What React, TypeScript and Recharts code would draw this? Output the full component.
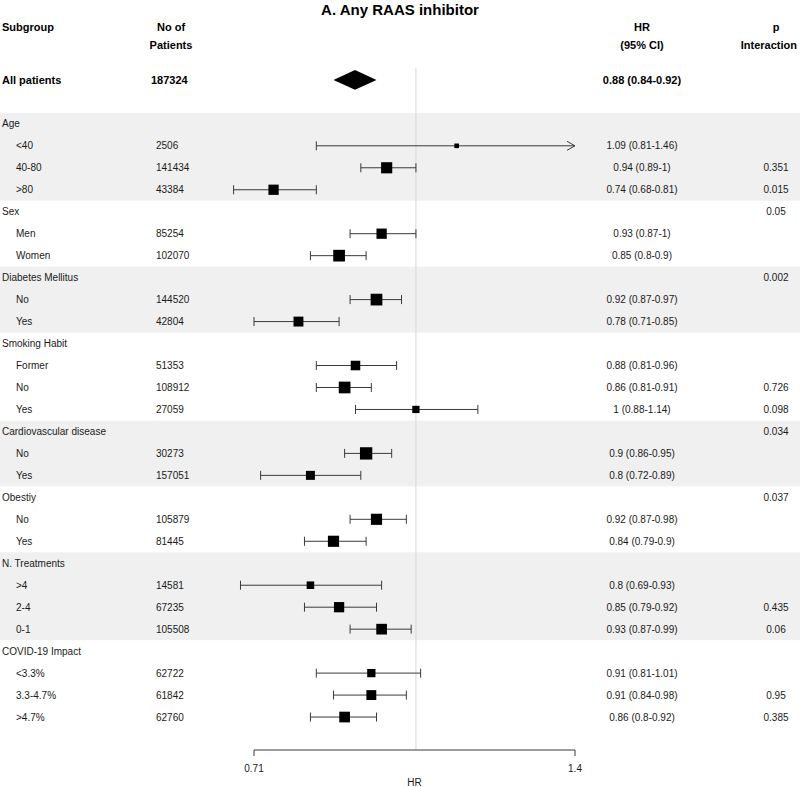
import React from 'react';
import {
  ScatterChart,
  Scatter,
  XAxis,
  YAxis,
  ReferenceArea,
  ReferenceLine,
  Customized,
} from 'recharts';

// ---------------- data ----------------
const chartTitle = 'A. Any RAAS inhibitor';

const rowLabels = [
  'Age', '<40', '40-80', '>80',
  'Sex', 'Men', 'Women',
  'Diabetes Mellitus', 'No', 'Yes',
  'Smoking Habit', 'Former', 'No', 'Yes',
  'Cardiovascular disease', 'No', 'Yes',
  'Obestiy', 'No', 'Yes',
  'N. Treatments', '>4', '2-4', '0-1',
  'COVID-19 Impact', '<3.3%', '3.3-4.7%', '>4.7%',
];
const rowIsGroup = [
  true, false, false, false,
  true, false, false,
  true, false, false,
  true, false, false, false,
  true, false, false,
  true, false, false,
  true, false, false, false,
  true, false, false, false,
];
const patients = [
  null, 2506, 141434, 43384,
  null, 85254, 102070,
  null, 144520, 42804,
  null, 51353, 108912, 27059,
  null, 30273, 157051,
  null, 105879, 81445,
  null, 14581, 67235, 105508,
  null, 62722, 61842, 62760,
];
const hrValues = [
  null, 1.09, 0.94, 0.74,
  null, 0.93, 0.85,
  null, 0.92, 0.78,
  null, 0.88, 0.86, 1,
  null, 0.9, 0.8,
  null, 0.92, 0.84,
  null, 0.8, 0.85, 0.93,
  null, 0.91, 0.91, 0.86,
];
const ciLower = [
  null, 0.81, 0.89, 0.68,
  null, 0.87, 0.8,
  null, 0.87, 0.71,
  null, 0.81, 0.81, 0.88,
  null, 0.86, 0.72,
  null, 0.87, 0.79,
  null, 0.69, 0.79, 0.87,
  null, 0.81, 0.84, 0.8,
];
const ciUpper = [
  null, 1.46, 1, 0.81,
  null, 1, 0.9,
  null, 0.97, 0.85,
  null, 0.96, 0.91, 1.14,
  null, 0.95, 0.89,
  null, 0.98, 0.9,
  null, 0.93, 0.92, 0.99,
  null, 1.01, 0.98, 0.92,
];
const pInteraction = [
  '', '', '0.351', '0.015',
  '0.05', '', '',
  '0.002', '', '',
  '', '', '0.726', '0.098',
  '0.034', '', '',
  '0.037', '', '',
  '', '', '0.435', '0.06',
  '', '', '0.95', '0.385',
];
const shadedGroups = ['Age', 'Diabetes Mellitus', 'Cardiovascular disease', 'N. Treatments'];

const overallLabel = 'All patients';
const overallPatients = 187324;
const overallHr = 0.88;
const overallLower = 0.84;
const overallUpper = 0.92;

const axisDomain: [number, number] = [0.71, 1.4];
const axisTicks = [0.71, 1.4];
const axisLabel = 'HR';
const refValue = 1;

// ---------------- layout / style ----------------
const W = 800;
const H = 787;
const FONT = '"Liberation Sans", Arial, Helvetica, sans-serif';
const TEXT = '#1a1a1a';
const LINE = '#3a3a3a';
const OVERALL_ROW = -2;
const Y_DOMAIN: [number, number] = [-5.5, 28.5];
const COL_LABEL = 2;
const COL_INDENT = 16;
const COL_N = 156;
const COL_N_BOLD = 151;
const COL_HR = 642;
const COL_P = 776;

const fmtHr = (h: number, l: number, u: number) => `${h} (${l}-${u})`;

type Row = { x: number; y: number; i: number };

const labelRows: Row[] = rowLabels.map((_, i) => ({ x: refValue, y: i, i }));
const overallRow = [{ x: refValue, y: OVERALL_ROW }];

const itemRows = rowLabels
  .map((_, i) => ({ i, hr: hrValues[i], lo: ciLower[i], hi: ciUpper[i] }))
  .filter((d) => d.hr != null)
  .map((d) => ({ x: d.hr as number, y: d.i, i: d.i, lo: d.lo as number, hi: d.hi as number }));

const bands = shadedGroups.map((g) => {
  const start = rowLabels.indexOf(g);
  let end = rowLabels.length - 1;
  for (let k = start + 1; k < rowLabels.length; k++) {
    if (rowIsGroup[k]) {
      end = k - 1;
      break;
    }
  }
  return { y1: start - 0.5, y2: end + 0.5 };
});

const LabelShape = (props: any) => {
  const { cy, payload } = props;
  const i = payload.i;
  const group = rowIsGroup[i];
  const n = patients[i];
  const h = hrValues[i];
  const ty = cy + 3.6;
  return (
    <g fontFamily={FONT} fontSize={10} fill={TEXT}>
      <text x={group ? COL_LABEL : COL_INDENT} y={ty}>{rowLabels[i]}</text>
      {n != null && <text x={COL_N} y={ty}>{n}</text>}
      {h != null && (
        <text x={COL_HR} y={ty} textAnchor="middle">
          {fmtHr(h, ciLower[i] as number, ciUpper[i] as number)}
        </text>
      )}
      {pInteraction[i] && (
        <text x={COL_P} y={ty} textAnchor="middle">{pInteraction[i]}</text>
      )}
    </g>
  );
};

const OverallShape = (props: any) => {
  const { cy } = props;
  const ty = cy + 4;
  return (
    <g fontFamily={FONT} fontSize={11} fontWeight="bold" fill="#000">
      <text x={COL_LABEL} y={ty}>{overallLabel}</text>
      <text x={COL_N_BOLD} y={ty}>{overallPatients}</text>
      <text x={COL_HR} y={ty} textAnchor="middle">
        {fmtHr(overallHr, overallLower, overallUpper)}
      </text>
    </g>
  );
};

const BoxShape = (props: any) => {
  const { cx, cy, payload } = props;
  const side = 3.7 * Math.sqrt(1 / (payload.hi - payload.lo));
  return <rect x={cx - side / 2} y={cy - side / 2} width={side} height={side} fill="#000" />;
};

const CiShape = (arrow: boolean) => (p: any) => {
  const { x1, y1, x2 } = p;
  const wh = 4.5;
  return (
    <g stroke={LINE} strokeWidth={1} fill="none">
      <line x1={x1} y1={y1} x2={x2} y2={y1} />
      <line x1={x1} y1={y1 - wh} x2={x1} y2={y1 + wh} />
      {arrow ? (
        <polyline points={`${x2 - 8},${y1 - 4.5} ${x2},${y1} ${x2 - 8},${y1 + 4.5}`} />
      ) : (
        <line x1={x2} y1={y1 - wh} x2={x2} y2={y1 + wh} />
      )}
    </g>
  );
};

const BandShape = (p: any) => (
  <rect x={0} y={p.y} width={W} height={p.height} fill="#f0f0f0" stroke="none" />
);

const DiamondShape = (p: any) => {
  const { x, y, width, height } = p;
  const mx = x + width / 2;
  const my = y + height / 2;
  return (
    <polygon
      points={`${x},${my} ${mx},${y} ${x + width},${my} ${mx},${y + height}`}
      fill="#000"
      stroke="none"
    />
  );
};

const Headers = () => (
  <g fontFamily={FONT} fill="#000" fontWeight="bold">
    <text x={W / 2} y={15} textAnchor="middle" fontSize={15}>{chartTitle}</text>
    <text x={COL_LABEL} y={31} fontSize={11}>Subgroup</text>
    <text x={171} y={31} fontSize={11} textAnchor="middle">No of</text>
    <text x={171} y={49} fontSize={11} textAnchor="middle">Patients</text>
    <text x={COL_HR} y={31} fontSize={11} textAnchor="middle">HR</text>
    <text x={COL_HR} y={49} fontSize={11} textAnchor="middle">(95% CI)</text>
    <text x={COL_P} y={31} fontSize={11} textAnchor="middle">p</text>
    <text x={797} y={49} fontSize={11} textAnchor="end">Interaction</text>
  </g>
);

export default function App() {
  return (
    <div
      style={{
        position: 'absolute',
        left: 0,
        top: 0,
        width: W,
        height: H,
        background: '#fff',
        fontFamily: FONT,
      }}
    >
      <ScatterChart width={W} height={H} margin={{ top: 3, right: 225, bottom: 0, left: 254 }}>
        <XAxis
          type="number"
          dataKey="x"
          scale="log"
          domain={axisDomain}
          ticks={axisTicks}
          interval={0}
          height={37}
          tickSize={6}
          tickMargin={9}
          axisLine={{ stroke: LINE }}
          tickLine={{ stroke: LINE }}
          tick={{ fill: TEXT, fontSize: 10, fontFamily: FONT }}
          tickFormatter={(v: number) => String(v)}
          label={{ value: axisLabel, position: 'insideBottom', offset: 1, fill: TEXT, fontSize: 10, fontFamily: FONT }}
        />
        <YAxis type="number" dataKey="y" domain={Y_DOMAIN} reversed hide width={0} />

        {bands.map((b, k) => (
          <ReferenceArea key={'band' + k} y1={b.y1} y2={b.y2} shape={BandShape} ifOverflow="visible" />
        ))}

        <ReferenceLine
          segment={[
            { x: refValue, y: -2.55 },
            { x: refValue, y: Y_DOMAIN[1] },
          ]}
          stroke="#d8d8d8"
          strokeWidth={1}
          ifOverflow="visible"
        />

        <ReferenceArea
          x1={overallLower}
          x2={overallUpper}
          y1={OVERALL_ROW - 0.45}
          y2={OVERALL_ROW + 0.45}
          shape={DiamondShape}
          ifOverflow="visible"
        />

        {itemRows.map((d) => (
          <ReferenceLine
            key={'ci' + d.i}
            segment={[
              { x: d.lo, y: d.y },
              { x: Math.min(d.hi, axisDomain[1]), y: d.y },
            ]}
            ifOverflow="visible"
            shape={CiShape(d.hi > axisDomain[1])}
          />
        ))}

        <Scatter data={labelRows} shape={LabelShape} isAnimationActive={false} />
        <Scatter data={overallRow} shape={OverallShape} isAnimationActive={false} />
        <Scatter data={itemRows} shape={BoxShape} isAnimationActive={false} />
        <Customized component={Headers} />
      </ScatterChart>
    </div>
  );
}
